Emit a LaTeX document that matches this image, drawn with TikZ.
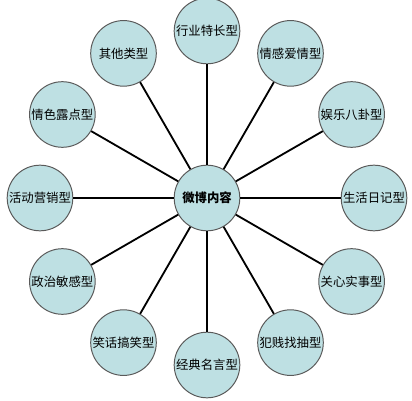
\documentclass[tikz,border=0pt]{standalone}
\usepackage{fontspec}
\setmainfont{Noto Sans CJK SC}
\definecolor{bubble}{HTML}{BEE0E3}
\definecolor{rim}{HTML}{5A5A5A}

\begin{document}
\begin{tikzpicture}[x=0.025cm,y=0.025cm]
          \tikzstyle{every node}=[circle,draw=rim,line width=0.7pt,fill=bubble,inner sep=0pt,minimum size=1.64cm,font=\fontsize{8.8}{10}\selectfont]
          \tikzstyle{hub}=[font=\fontsize{8.8}{10}\selectfont\bfseries]
          \tikzstyle{spoke}=[line width=1.3pt,black]
          \useasboundingbox (-207,-202) rectangle (205,198);
          \node[hub] (hub) at (0,0) {微博内容};
          \foreach \name [count=\i] in {行业特长型,情感爱情型,娱乐八卦型,生活日记型,关心实事型,犯贱找抽型,
                                       经典名言型,笑话搞笑型,政治敏感型,活动营销型,情色露点型,其他类型}
            \node (t\i) at ({120-30*\i}:167) {\name};
          \foreach \i in {1,...,12}
            \draw[spoke] (hub) -- (t\i);
      \end{tikzpicture}
\end{document}
